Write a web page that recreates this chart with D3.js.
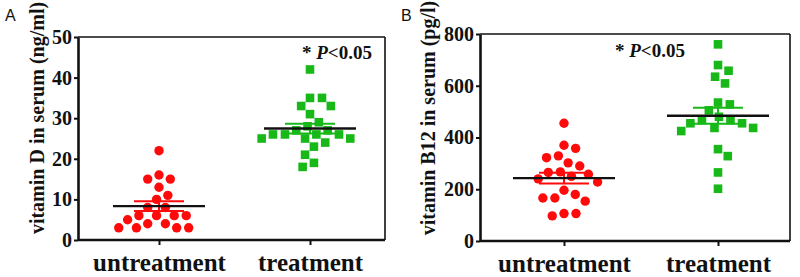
<!DOCTYPE html>
<html><head><meta charset="utf-8">
<script src="https://cdn.jsdelivr.net/npm/d3@7"></script>
<style>body{margin:0;background:#fff}svg{display:block}
.serif{font-family:'Liberation Serif','Times New Roman',serif !important;font-weight:bold}
</style>
</head><body><svg id="c" width="800" height="277"></svg>
<script>
const categories = ["untreatment", "treatment"];
const vitaminDUntreatment = [22,16,15,15,13,11,10,8,8,6,6,6,6,5,4,4,3,3,3,3];
const vitaminDTreatment = [42,35,35,33,33,31,29,28,27,27,26,26,26,26,25,25,25,24,23,21,19,18];
const b12Untreatment = [455,370,358,329,322,302,290,267,265,258,250,240,228,196,180,166,166,154,106,106,97];
const b12Treatment = [760,680,658,635,609,535,528,505,480,467,467,455,455,437,437,425,355,328,265,202];
const vitaminDTicks = [0,10,20,30,40,50];
const b12Ticks = [0,200,400,600,800];
const panelLabels = ["A", "B"];
const yTitles = ["vitamin D in serum (ng/ml)", "vitamin B12 in serum (pg/l)"];
const pStar = "*", pItalic = "P", pRest = "<0.05";

const RED = "#ff0a0a", GREEN = "#17b817";

const panels = [
  {label: panelLabels[0], title: yTitles[0], ticks: vitaminDTicks, domain: [0, 50],
   series: [vitaminDUntreatment, vitaminDTreatment],
   L: 78, R: 385, T: 37, B: 240, xr: [159, 310], titleX: 37, titleY: 118,
   pX: 302, pY: 59, labX: 5, labY: 21, meanHalf: 46},
  {label: panelLabels[1], title: yTitles[1], ticks: b12Ticks, domain: [0, 800],
   series: [b12Untreatment, b12Treatment],
   L: 480, R: 790, T: 34, B: 241, xr: [564, 718], titleX: 428, titleY: 118,
   pX: 615, pY: 57, labX: 401, labY: 21, meanHalf: 51}
];

const svg = d3.select("#c");

function beeswarm(values, y, d) {
  const pts = values.map((v, i) => ({v, i, y: y(v), dx: 0}))
    .sort((a, b) => b.v - a.v);
  const placed = [];
  for (const p of pts) {
    const cands = [0];
    for (const q of placed) {
      const dy = Math.abs(q.y - p.y);
      if (dy < d) {
        const off = Math.sqrt(d * d - dy * dy);
        cands.push(q.dx + off, q.dx - off);
      }
    }
    cands.sort((a, b) => Math.abs(a) - Math.abs(b) || b - a);
    for (const c of cands) {
      let ok = true;
      for (const q of placed) {
        const dx = q.dx - c, dy = q.y - p.y;
        if (dx * dx + dy * dy < d * d - 0.01) { ok = false; break; }
      }
      if (ok) { p.dx = c; break; }
    }
    placed.push(p);
  }
  return pts;
}

panels.forEach(P => {
  const g = svg.append("g");
  const y = d3.scaleLinear().domain(P.domain).range([P.B, P.T]);
  const x = d3.scalePoint().domain(categories).range(P.xr);

  g.append("line").attr("x1", P.L).attr("x2", P.R).attr("y1", P.T).attr("y2", P.T)
    .attr("stroke", "#111").attr("stroke-width", 1.6);
  g.append("line").attr("x1", P.R).attr("x2", P.R).attr("y1", P.T).attr("y2", P.B)
    .attr("stroke", "#111").attr("stroke-width", 1.6);

  const ya = g.append("g").attr("transform", `translate(${P.L},0)`)
    .call(d3.axisLeft(y).tickValues(P.ticks).tickSize(4).tickPadding(2).tickSizeOuter(0));
  ya.attr("font-family", null).attr("font-size", null);
  ya.select(".domain").attr("stroke", "#111").attr("stroke-width", 2.6);
  ya.selectAll(".tick line").attr("stroke", "#111").attr("stroke-width", 2);
  ya.selectAll(".tick text").attr("class", "serif").style("font-size", "20px").attr("fill", "#111");

  const xa = g.append("g").attr("transform", `translate(0,${P.B})`)
    .call(d3.axisBottom(x).tickSize(5).tickSizeOuter(0).tickPadding(8));
  xa.attr("font-family", null).attr("font-size", null);
  xa.select(".domain").attr("d", `M${P.L},0H${P.R}`).attr("stroke", "#111").attr("stroke-width", 2.6);
  xa.selectAll(".tick line").attr("stroke", "#111").attr("stroke-width", 2);
  xa.selectAll(".tick text").attr("class", "serif").style("font-size", "25px")
    .attr("fill", "#111").attr("dy", "0.71em");

  g.append("text").attr("class", "serif")
    .attr("transform", `translate(${P.titleX},${P.titleY}) rotate(-90)`)
    .attr("text-anchor", "middle").attr("dy", "0.35em").style("font-size", "20px")
    .attr("fill", "#111").text(P.title);

  g.append("text").attr("x", P.labX).attr("y", P.labY)
    .style("font-family", "'Liberation Sans',Arial,sans-serif").style("font-size", "16px")
    .attr("fill", "#111").text(P.label);

  P.series.forEach((vals, si) => {
    const cx = x(categories[si]);
    const pts = beeswarm(vals, y, 12);
    const color = si === 0 ? RED : GREEN;
    if (si === 0) {
      g.selectAll(null).data(pts).enter().append("circle")
        .attr("cx", d => cx + d.dx).attr("cy", d => d.y).attr("r", 4.7).attr("fill", color);
    } else {
      g.selectAll(null).data(pts).enter().append("rect")
        .attr("x", d => cx + d.dx - 4.3).attr("y", d => d.y - 4.3)
        .attr("width", 8.6).attr("height", 8.6).attr("fill", color);
    }
  });

  P.series.forEach((vals, si) => {
    const cx = x(categories[si]);
    const color = si === 0 ? RED : GREEN;
    const m = d3.mean(vals), sem = d3.deviation(vals) / Math.sqrt(vals.length);
    const cap = 25;
    g.append("line").attr("x1", cx).attr("x2", cx).attr("y1", y(m + sem)).attr("y2", y(m - sem))
      .attr("stroke", color).attr("stroke-width", 2);
    [m + sem, m - sem].forEach(v => {
      g.append("line").attr("x1", cx - cap).attr("x2", cx + cap).attr("y1", y(v)).attr("y2", y(v))
        .attr("stroke", color).attr("stroke-width", 2);
    });
    g.append("line").attr("x1", cx - P.meanHalf).attr("x2", cx + P.meanHalf)
      .attr("y1", y(m)).attr("y2", y(m)).attr("stroke", "#111").attr("stroke-width", 2.4);
  });

  const t = g.append("text").attr("class", "serif").attr("x", P.pX).attr("y", P.pY)
    .style("font-size", "19px").attr("fill", "#111");
  t.append("tspan").text(pStar + " ");
  t.append("tspan").style("font-style", "italic").text(pItalic);
  t.append("tspan").text(pRest);
});
</script></body></html>
